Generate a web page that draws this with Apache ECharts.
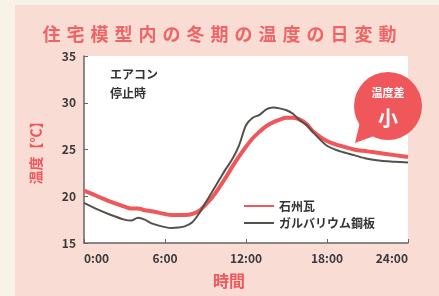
<!DOCTYPE html>
<html>
<head>
<meta charset="utf-8">
<script src="https://cdn.jsdelivr.net/npm/echarts@6/dist/echarts.min.js"></script>
<style>
  html, body { margin: 0; padding: 0; background: #f7f3e6; }
  #chart { width: 439px; height: 296px; }
</style>
</head>
<body>
<div id="chart"></div>
<script type="text/javascript">
	// 時刻（時）
	var hours = [0, 1, 2, 3, 3.5, 4, 4.5, 5, 6, 6.5, 7, 7.5, 8, 8.5, 9, 9.5, 10, 10.5, 11, 11.5,
		12, 12.5, 13, 13.5, 14, 14.5, 15, 15.5, 16, 16.5, 17, 18, 19, 20, 21, 22, 23, 24];
	// 石州瓦
	var sekishu = [20.6, 20.0, 19.4, 18.9, 18.7, 18.7, 18.5, 18.4, 18.1, 18.0, 18.0, 18.0, 18.1, 18.4, 19.1, 19.9, 20.9, 22.0, 23.2, 24.3,
		25.3, 26.2, 26.9, 27.5, 27.9, 28.2, 28.4, 28.4, 28.2, 27.7, 26.9, 25.9, 25.4, 25.0, 24.8, 24.6, 24.4, 24.2];
	// ガルバリウム鋼板
	var galva = [19.3, 18.6, 18.0, 17.5, 17.4, 17.7, 17.5, 17.1, 16.7, 16.6, 16.65, 16.8, 17.2, 18.1, 19.3, 20.5, 21.7, 22.9, 24.0, 25.5,
		27.6, 28.4, 28.7, 29.3, 29.5, 29.4, 29.2, 28.8, 28.1, 27.6, 26.8, 25.4, 24.8, 24.4, 24.0, 23.8, 23.7, 23.6];
	var yTicks = [15, 20, 25, 30, 35];

	var titleText = '住宅模型内の冬期の温度の日変動';
	var red = '#f0575a';
	var gray = '#55504a';
	var font = 'Noto Sans CJK JP';

	function pairs(arr) {
		return hours.map(function (h, i) { return [h, arr[i]]; });
	}

	var myChart = echarts.init(document.getElementById('chart'));
	var option = {
		animation: false,
		backgroundColor: '#f7f3e6',
		title: {
			// 文字間隔を rich の padding で広げる
			text: titleText.split('').map(function (c) { return '{c|' + c + '}'; }).join(''),
			left: 'center',
			top: 20,
			textStyle: {
				rich: {
					c: { color: '#ef6464', fontSize: 18, fontWeight: 'bold', fontFamily: font, padding: [0, 3, 0, 3] }
				}
			}
		},
		grid: {
			left: 84, right: 31, top: 56, bottom: 53,
			show: true, backgroundColor: '#ffffff', borderWidth: 0
		},
		legend: {
			orient: 'vertical',
			left: 238,
			top: 195,
			itemWidth: 30,
			itemGap: 5,
			itemStyle: { opacity: 0 },          // 凡例は線だけ（丸を消す）
			textStyle: { color: '#333', fontSize: 12, fontWeight: 'bold', fontFamily: font },
			data: ['石州瓦', 'ガルバリウム鋼板']
		},
		xAxis: {
			type: 'value',
			min: 0, max: 24, interval: 6,
			name: '時間',
			nameLocation: 'middle',
			nameGap: 30,
			nameTextStyle: { color: '#f0575a', fontSize: 16, fontWeight: 'bold', fontFamily: font, padding: [0, 34, 0, 0] },
			axisLine: { lineStyle: { color: '#666', width: 1.5 } },
			axisTick: { inside: true, length: 4, lineStyle: { color: '#666' } },
			splitLine: { show: false },
			axisLabel: {
				color: '#3a3a3a', fontSize: 12, fontWeight: 'bold', fontFamily: font, margin: 9,
				alignMinLabel: 'left', alignMaxLabel: 'right',
				formatter: function (v) { return v + ':00'; }
			}
		},
		yAxis: {
			type: 'value',
			min: yTicks[0], max: yTicks[yTicks.length - 1], interval: 5,
			name: '温度【℃】',
			nameLocation: 'middle',
			nameRotate: 90,
			nameGap: 41,
			nameTextStyle: { color: '#f0575a', fontSize: 14, fontWeight: 'bold', fontFamily: font },
			axisLine: { show: true, lineStyle: { color: '#666', width: 1.5 } },
			axisTick: { show: true, inside: true, length: 4, lineStyle: { color: '#666' } },
			splitLine: { show: false },
			axisLabel: { color: '#3a3a3a', fontSize: 12, fontWeight: 'bold', fontFamily: font, margin: 8 }
		},
		series: [
			{
				name: '石州瓦',
				type: 'line',
				smooth: 0.4,
				symbol: 'none',
				lineStyle: { color: red, width: 4 },
				itemStyle: { color: red },
				data: pairs(sekishu)
			},
			{
				name: 'ガルバリウム鋼板',
				type: 'line',
				smooth: 0.3,
				symbol: 'none',
				lineStyle: { color: gray, width: 2 },
				itemStyle: { color: gray },
				data: pairs(galva)
			}
		],
		graphic: [
			// ピンクの台紙
			{ type: 'rect', left: 15, top: 5, z: -10, shape: { width: 424, height: 291 }, style: { fill: '#f9dcd3' } },
			{
				type: 'text', left: 110, top: 65,
				style: { text: 'エアコン\n停止時', fill: '#333', font: 'bold 12px "Noto Sans CJK JP"', lineHeight: 19 }
			},
			// 吹き出し
			{ type: 'polygon', shape: { points: [[360, 122], [374, 136], [355, 143]] }, style: { fill: red } },
			{ type: 'circle', shape: { cx: 388, cy: 106, r: 34 }, style: { fill: red } },
			{
				type: 'text', x: 388, y: 93,
				style: { text: '温度差', fill: '#fff', font: 'bold 11px "Noto Sans CJK JP"', align: 'center', verticalAlign: 'middle' }
			},
			{
				type: 'text', x: 388, y: 118,
				style: { text: '小', fill: '#fff', font: 'bold 20px "Noto Sans CJK JP"', align: 'center', verticalAlign: 'middle' }
			}
		]
	};
	myChart.setOption(option);
</script>
</body>
</html>
